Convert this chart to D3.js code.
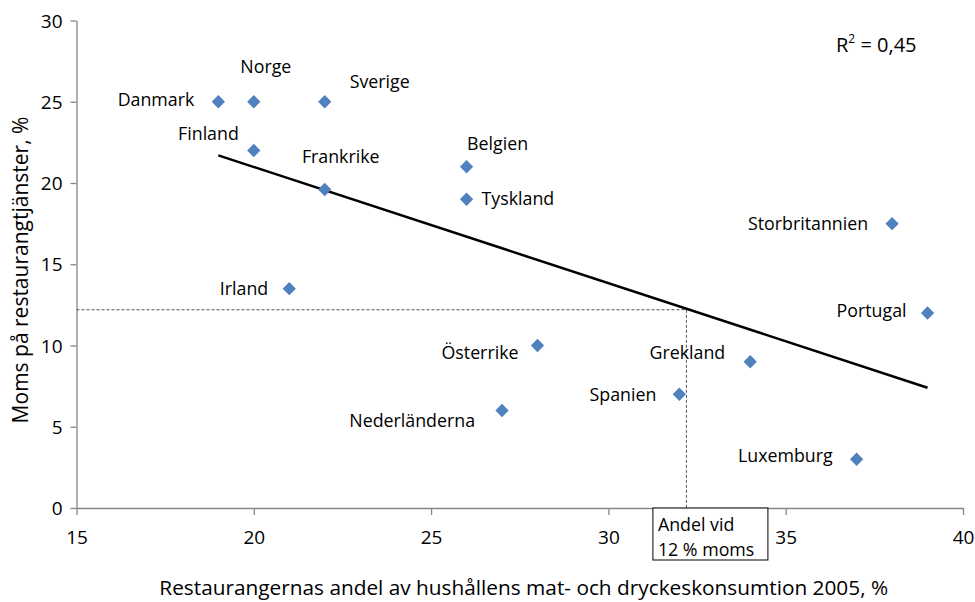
<!DOCTYPE html>
<meta charset="utf-8">
<style>
body { margin: 0; background: #fff; }
svg { font-family: "Open Sans", Lato, sans-serif; }
.axis path, .axis line { stroke: #868686; stroke-width: 1.3px; }
.axis text { font-size: 19px; fill: #000; font-family: "Open Sans", sans-serif; }
.label { font-size: 17.8px; fill: #000; }
.trend { fill: none; stroke: #000; stroke-width: 2.5px; }
.guide { fill: none; stroke: #555; stroke-width: 1px; stroke-dasharray: 3,2; }
</style>
<div id="chart"></div>
<script src="https://d3js.org/d3.v7.min.js"></script>
<script>

// data
var countries = ["Danmark", "Norge", "Sverige", "Finland", "Frankrike", "Belgien", "Tyskland", "Irland",
  "Storbritannien", "Portugal", "Österrike", "Grekland", "Spanien", "Nederländerna", "Luxemburg"];
var share = [19, 20, 22, 20, 22, 26, 26, 21, 38, 39, 28, 34, 32, 27, 37];
var vat = [25, 25, 25, 22, 19.6, 21, 19, 13.5, 17.5, 12, 10, 9, 7, 6, 3];

var trendX = [19, 39];
var trendY = [21.7, 7.4];

var markX = 32.2, markY = 12.2;   // share at 12 % vat

var xTicks = [15, 20, 25, 30, 35, 40];
var yTicks = [0, 5, 10, 15, 20, 25, 30];

// label placement around each point (pixels)
var labelPos = {
  "Danmark": [-24, -2, "end"],
  "Norge": [12, -35, "middle"],
  "Sverige": [25, -20, "start"],
  "Finland": [-15, -17, "end"],
  "Frankrike": [16, -33, "middle"],
  "Belgien": [31, -23, "middle"],
  "Tyskland": [15, 0, "start"],
  "Irland": [-21, 0, "end"],
  "Storbritannien": [-24, 0, "end"],
  "Portugal": [-21, -2, "end"],
  "Österrike": [-19, 7, "end"],
  "Grekland": [-25, -9, "end"],
  "Spanien": [-23, 1, "end"],
  "Nederländerna": [-27, 10, "end"],
  "Luxemburg": [-24, -3, "end"]
};

var width = 975, height = 602;
var margin = {left: 76.5, right: 12, top: 20.5, bottom: 94};

var x = d3.scaleLinear().domain([15, 40]).range([margin.left, width - margin.right]);
var y = d3.scaleLinear().domain([0, 30]).range([height - margin.bottom, margin.top]);

var svg = d3.select("#chart").append("svg")
  .attr("width", width)
  .attr("height", height);

// axes
svg.append("g")
  .attr("class", "y axis")
  .attr("transform", "translate(" + margin.left + ",0)")
  .call(d3.axisLeft(y).tickValues(yTicks).tickSize(6).tickPadding(8).tickSizeOuter(0))
  .call(function(g) { g.selectAll("text").attr("dy", "0.35em"); });

svg.append("g")
  .attr("class", "x axis")
  .attr("transform", "translate(0," + y(0) + ")")
  .call(d3.axisBottom(x).tickValues(xTicks).tickSize(7).tickPadding(16).tickSizeOuter(0));

// guide lines to the 12 % point
svg.append("path")
  .attr("class", "guide")
  .attr("d", "M" + x(15) + "," + y(markY) + "H" + x(markX) + "V" + y(0));

// trend line
var line = d3.line()
  .x(function(d) { return x(d[0]); })
  .y(function(d) { return y(d[1]); });

svg.append("path")
  .attr("class", "trend")
  .attr("d", line(d3.zip(trendX, trendY)));

// points
var pts = d3.zip(countries, share, vat);
var diamond = d3.symbol().type(d3.symbolSquare).size(88);

svg.selectAll(".pt")
  .data(pts)
  .enter().append("path")
  .attr("class", "pt")
  .attr("d", diamond)
  .attr("fill", "#4F81BD")
  .attr("transform", function(d) { return "translate(" + x(d[1]) + "," + y(d[2]) + ") rotate(45)"; });

svg.selectAll(".label")
  .data(pts)
  .enter().append("text")
  .attr("class", "label")
  .attr("x", function(d) { return x(d[1]) + labelPos[d[0]][0]; })
  .attr("y", function(d) { return y(d[2]) + labelPos[d[0]][1]; })
  .attr("dy", "0.35em")
  .attr("text-anchor", function(d) { return labelPos[d[0]][2]; })
  .text(function(d) { return d[0]; });

// annotation box
var box = svg.append("g")
  .attr("transform", "translate(" + (x(markX) - 33.5) + "," + y(0) + ")");
box.append("rect")
  .attr("width", 115)
  .attr("height", 52)
  .attr("fill", "#fff")
  .attr("stroke", "#000")
  .attr("stroke-width", 1);
box.append("text")
  .attr("class", "label")
  .attr("x", 5)
  .attr("y", 23)
  .text("Andel vid");
box.append("text")
  .attr("class", "label")
  .attr("x", 5)
  .attr("y", 48)
  .text("12 % moms");

// R squared
var r2 = svg.append("text")
  .attr("class", "label")
  .attr("x", 836)
  .attr("y", 52)
  .style("font-size", "20px");
r2.append("tspan").text("R");
r2.append("tspan").attr("dy", -9).style("font-size", "12px").text("2");
r2.append("tspan").attr("dy", 9).text(" = 0,45");

// axis titles
svg.append("text")
  .attr("x", (margin.left + width - margin.right) / 2 + 4)
  .attr("y", 595)
  .attr("text-anchor", "middle")
  .style("font-size", "20.8px")
  .text("Restaurangernas andel av hushållens mat- och dryckeskonsumtion 2005, %");

svg.append("text")
  .attr("transform", "translate(28,270) rotate(-90)")
  .attr("text-anchor", "middle")
  .style("font-size", "21px")
  .text("Moms på restaurangtjänster, %");

</script>
